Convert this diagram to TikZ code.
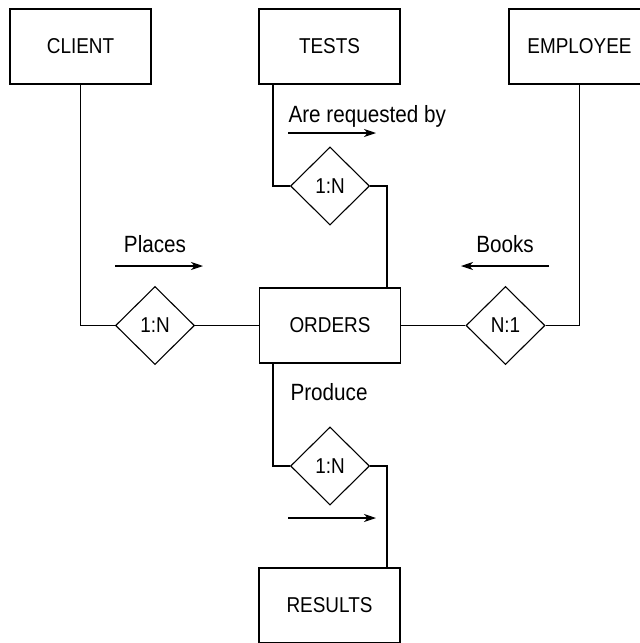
\documentclass[tikz,border=0pt]{standalone}
\usepackage{fontspec}
\setmainfont[FakeStretch=0.88]{Liberation Sans}
\usetikzlibrary{shapes.geometric,arrows.meta}
\begin{document}
\begin{tikzpicture}[x=1pt,y=-1pt,line width=1.1pt,
  entity/.style={draw,rectangle,minimum width=141pt,minimum height=75pt,inner sep=0pt,font=\fontsize{21.5}{24}\selectfont},
  rel/.style={draw,diamond,minimum width=79pt,minimum height=78pt,inner sep=0pt,font=\fontsize{21.5}{24}\selectfont},
  lbl/.style={inner sep=0pt,font=\fontsize{23.5}{26}\selectfont},
  dirarrow/.style={-{Stealth[length=12pt,width=8pt,inset=3.5pt]}}]
\useasboundingbox (0,0) rectangle (640,643);
% entities
\node[entity] (client) at (80.5,46.5) {CLIENT};
\node[entity] (tests) at (329.5,46.5) {TESTS};
\node[entity] (employee) at (579.5,46.5) {EMPLOYEE};
\node[entity] (orders) at (330,325.5) {ORDERS};
\node[entity] (results) at (329.5,605.5) {RESULTS};
% relationships
\node[rel] (dplaces) at (155,325.5) {1:N};
\node[rel] (dbooks) at (505.5,325.5) {N:1};
\node[rel] (dreq) at (330,186) {1:N};
\node[rel] (dprod) at (330,466) {1:N};
% connectors
\draw (client.south) |- (dplaces.west);
\draw (dplaces.east) -- (orders.west);
\draw (orders.east) -- (dbooks.west);
\draw (dbooks.east) -| (employee.south);
\draw ([xshift=-56.5pt]tests.south) |- (dreq.west);
\draw (dreq.east) -| ([xshift=57pt]orders.north);
\draw ([xshift=-57pt]orders.south) |- (dprod.west);
\draw (dprod.east) -| ([xshift=57.5pt]results.north);
% labels
\node[lbl,anchor=base west] (treq) at (288,122) {Are requested by};
\node[lbl,anchor=base] (tplaces) at (155,252) {Places};
\node[lbl,anchor=base] (tbooks) at (505,252) {Books};
\node[lbl,anchor=base west] (tprod) at (290,400) {Produce};
% direction arrows
\coordinate (a1s) at (288,133); \coordinate (a1e) at (376,133);
\coordinate (a2s) at (115,266); \coordinate (a2e) at (203,266);
\coordinate (a3s) at (549,266); \coordinate (a3e) at (461,266);
\coordinate (a4s) at (288,518); \coordinate (a4e) at (376,518);
\draw[dirarrow] (a1s) -- (a1e);
\draw[dirarrow] (a2s) -- (a2e);
\draw[dirarrow] (a3s) -- (a3e);
\draw[dirarrow] (a4s) -- (a4e);
\end{tikzpicture}
\end{document}
